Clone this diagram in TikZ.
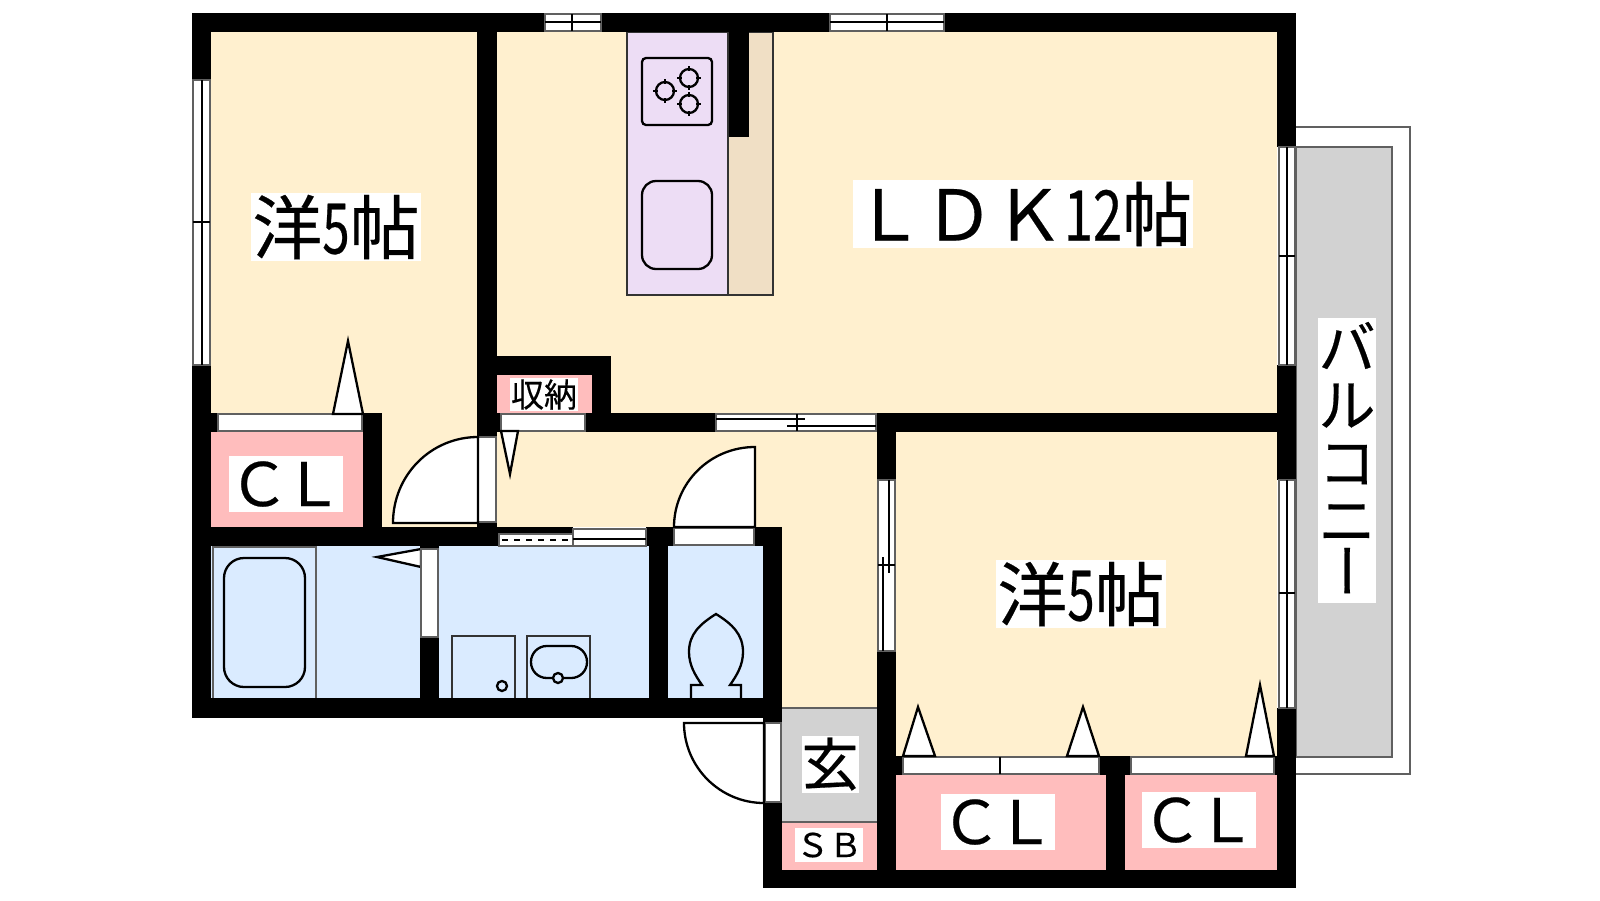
\documentclass[tikz,border=0pt]{standalone}
\usepackage{fontspec}
\usepackage{graphicx}
\setmainfont{Noto Sans CJK JP}
\newcommand{\dgt}[2]{{\addfontfeature{FakeStretch=#1}#2}}
\definecolor{floory}{HTML}{FFF0CF}
\definecolor{wetb}{HTML}{DAEBFF}
\definecolor{closetp}{HTML}{FFBDBD}
\definecolor{stoneg}{HTML}{D2D2D2}
\definecolor{kitchenp}{HTML}{EDDDF5}
\definecolor{kitchent}{HTML}{F0DFC5}
\definecolor{edgeg}{HTML}{606060}
\tikzset{
  x=0.5pt,y=-0.5pt,
  wall/.style={fill=black,draw=none},
  floorfill/.style={fill=floory,draw=none},
  pane/.style={fill=white,draw=edgeg,line width=1pt},
  rail/.style={draw=black,line width=0.9pt},
  fixture/.style={draw=black,line width=1.15pt},
  lbl/.style={fill=white,inner sep=0pt,text=black,align=center},
  lblbig/.style={lbl,font=\fontsize{35}{35}\selectfont\addfontfeature{FakeBold=0.35}},
  lblmid/.style={lbl,font=\fontsize{30}{30}\selectfont\addfontfeature{FakeBold=0.35}},
  lblgen/.style={lbl,font=\fontsize{28.5}{28.5}\selectfont\addfontfeature{FakeBold=0.35}},
  lblsmall/.style={lbl,font=\fontsize{16.5}{16.5}\selectfont\addfontfeature{FakeBold=0.25}},
}
\begin{document}
\begin{tikzpicture}
\path[use as bounding box,fill=white] (0,0) rectangle (1600,900);
% floors
\fill[floorfill] (211,32) rectangle (477,413);
\fill[floorfill] (382,413) rectangle (477,527);
\fill[floorfill] (497,32) rectangle (1277,413);
\fill[floorfill] (497,432) rectangle (877,527);
\fill[floorfill] (782,527) rectangle (877,708);
\fill[floorfill] (896,432) rectangle (1277,756);
% closets
\fill[closetp] (211,432) rectangle (363,527);
\fill[closetp] (497,375) rectangle (592,413);
\fill[closetp] (896,775) rectangle (1106,870);
\fill[closetp] (1125,775) rectangle (1277,870);
\fill[closetp] (782,822) rectangle (877,870);
% wet rooms
\fill[wetb] (211,546) rectangle (420,698);
\fill[wetb] (439,546) rectangle (649,698);
\fill[wetb] (668,546) rectangle (763,698);
% entry
\fill[stoneg] (782,708) rectangle (877,822);
\draw[draw=edgeg,line width=0.9pt] (782,708) -- (877,708) (782,822) -- (877,822);
% balcony
\draw[draw=edgeg,line width=0.9pt] (1296,127) -- (1410,127) -- (1410,774) -- (1296,774);
\draw[fill=stoneg,draw=edgeg,line width=1pt] (1296,147) rectangle (1392,757);
% kitchen
\draw[fill=kitchenp,draw=black!80,line width=1pt] (627,32) rectangle (728,295);
\draw[fill=kitchent,draw=black!80,line width=1pt] (728,32) rectangle (773,295);
\draw[fixture,rounded corners=2pt] (642,58) rectangle (712,125);
\draw[fixture,rounded corners=7pt] (642,181) rectangle (712,269);
\foreach \bx/\by in {665/91,689/78,689/104}{
  \draw[fixture] (\bx,\by) circle[radius=9];
  \draw[rail] (\bx-12,\by) -- (\bx-7,\by) (\bx+7,\by) -- (\bx+12,\by) (\bx,\by-12) -- (\bx,\by-7) (\bx,\by+7) -- (\bx,\by+12);
}
% walls
\fill[wall] (192,13) rectangle (545,32);
\fill[wall] (601,13) rectangle (830,32);
\fill[wall] (944,13) rectangle (1296,32);
\fill[wall] (729,32) rectangle (749,137);
\fill[wall] (192,13) rectangle (211,80);
\fill[wall] (192,365) rectangle (211,718);
\fill[wall] (192,698) rectangle (782,718);
\fill[wall] (477,32) rectangle (497,546);
\fill[wall] (192,527) rectangle (499,546);
\fill[wall] (363,413) rectangle (382,527);
\fill[wall] (211,413) rectangle (218,432);
\fill[wall] (420,546) rectangle (439,549);
\fill[wall] (420,637) rectangle (439,698);
\fill[wall] (499,527) rectangle (573,534);
\fill[wall] (646,527) rectangle (674,546);
\fill[wall] (649,546) rectangle (668,698);
\fill[wall] (754,527) rectangle (782,546);
\fill[wall] (763,546) rectangle (782,723);
\fill[wall] (763,802) rectangle (782,888);
\fill[wall] (763,870) rectangle (1296,888);
\fill[wall] (877,413) rectangle (896,480);
\fill[wall] (877,651) rectangle (896,888);
\fill[wall] (877,413) rectangle (1277,432);
\fill[wall] (1277,13) rectangle (1296,147);
\fill[wall] (1277,365) rectangle (1296,480);
\fill[wall] (1277,708) rectangle (1296,888);
\fill[wall] (1274,756) rectangle (1277,775);
\fill[wall] (896,756) rectangle (903,775);
\fill[wall] (1099,756) rectangle (1131,775);
\fill[wall] (1106,775) rectangle (1125,870);
\fill[wall] (497,356) rectangle (611,375);
\fill[wall] (592,356) rectangle (611,432);
\fill[wall] (497,413) rectangle (716,432);
% top windows
\draw[pane] (545,14) rectangle (601,31);
\draw[rail] (545,22) -- (601,22) (572,14) -- (572,31);
\draw[pane] (830,14) rectangle (944,31);
\draw[rail] (830,22) -- (944,22) (887,14) -- (887,31);
% left window
\draw[pane] (193,80) rectangle (210,365);
\draw[rail] (202,80) -- (202,365) (193,222) -- (210,222);
% right windows
\draw[pane] (1279,147) rectangle (1295,365);
\draw[rail] (1287,147) -- (1287,365) (1279,256) -- (1295,256);
\draw[pane] (1279,480) rectangle (1295,708);
\draw[rail] (1287,480) -- (1287,708) (1279,593) -- (1295,593);
% inner sliding window LDK / hall
\draw[pane] (716,414) rectangle (876,431);
\draw[rail] (716,419) -- (805,419) (787,426) -- (876,426) (797,414) -- (797,431);
% inner sliding window hall / bedroom
\draw[pane] (878,480) rectangle (895,651);
\draw[rail] (889,480) -- (889,573) (883,557) -- (883,651) (878,565) -- (895,565);
% washroom window
\draw[pane] (499,534) rectangle (573,546);
\draw[rail,dashed] (502,540) -- (571,540);
\draw[pane] (573,529) rectangle (646,546);
\draw[rail] (573,539) -- (646,539);
% closet doors
\draw[pane] (218,414) rectangle (362,431);
\draw[pane] (501,414) rectangle (585,431);
\draw[pane] (903,757) rectangle (1099,774);
\draw[rail] (1000,757) -- (1000,774);
\draw[pane] (1131,757) rectangle (1274,774);
% door leaves (triangles)
\draw[fixture,fill=white] (333,414) -- (348,341) -- (363,414) -- cycle;
\draw[fixture,fill=white] (501,431) -- (510,474) -- (518,431) -- cycle;
\draw[fixture,fill=white] (421,549) -- (377,557) -- (421,567) -- cycle;
\draw[fixture,fill=white] (903,756) -- (918,707) -- (935,756) -- cycle;
\draw[fixture,fill=white] (1067,756) -- (1083,707) -- (1099,756) -- cycle;
\draw[fixture,fill=white] (1246,756) -- (1260,685) -- (1274,756) -- cycle;
% swing doors
\draw[pane] (478,437) rectangle (496,522);
\draw[fixture,fill=white] (478,437) .. controls (431,437) and (393,475) .. (393,523) -- (478,523) -- cycle;
\draw[pane] (674,528) rectangle (754,545);
\draw[fixture,fill=white] (755,447) .. controls (710,447) and (674,483) .. (674,527) -- (755,527) -- cycle;
\draw[pane] (765,723) rectangle (781,802);
\draw[fixture,fill=white] (684,723) .. controls (684,767) and (720,803) .. (764,803) -- (764,723) -- cycle;
\draw[pane] (421,549) rectangle (438,637);
% bath
\draw[draw=edgeg,line width=1pt] (213,698) -- (213,547) -- (316,547) -- (316,698);
\draw[fixture,rounded corners=10pt] (224,558) rectangle (305,687);
% washer and basin
\draw[draw=black!80,line width=1pt] (452,698) -- (452,636) -- (515,636) -- (515,698);
\draw[fixture] (502,686) circle[radius=5];
\draw[draw=black!80,line width=1pt] (527,698) -- (527,636) -- (590,636) -- (590,698);
\draw[fixture,rounded corners=7.9pt] (531,646) rectangle (587,678);
\draw[fixture,fill=wetb] (558,678) circle[radius=5];
% toilet
\draw[fixture] (691,698) -- (691,685) -- (702,685)
  .. controls (695,675) and (689,665) .. (689,652)
  .. controls (689,634) and (700,624) .. (716,614)
  .. controls (732,624) and (743,634) .. (743,652)
  .. controls (743,665) and (737,675) .. (730,685)
  -- (741,685) -- (741,698);
% labels
\node[lblbig,minimum width=85pt,minimum height=34pt] (roomA) at (336,227) {洋\dgt{0.7}{5}帖};
\node[lblbig,minimum width=85pt,minimum height=34pt] (roomB) at (1081,594) {洋\dgt{0.7}{5}帖};
\node[lblbig,minimum width=170pt,minimum height=34pt] (ldk) at (1023,214) {ＬＤＫ\dgt{0.75}{12}帖};
\node[lblmid,minimum width=57pt,minimum height=28pt] (clA) at (286,484) {Ｃ\kern-3ptＬ};
\node[lblmid,minimum width=57pt,minimum height=28pt] (clB) at (998,822) {Ｃ\kern-3ptＬ};
\node[lblmid,minimum width=57pt,minimum height=28pt] (clC) at (1199,820) {Ｃ\kern-3ptＬ};
\node[lblgen,minimum width=28.5pt,minimum height=28.5pt] (genkan) at (830,764) {玄};
\node[lblsmall,minimum width=34pt,minimum height=17pt] (sb) at (829,845) {ＳＢ};
\node[lblsmall,minimum width=34pt,minimum height=16.5pt] (shuno) at (544,394.5) {収納};
\node[lbl,font=\fontsize{28.5}{28.8}\selectfont\addfontfeature{FakeBold=0.35},minimum width=29pt,minimum height=142.5pt] (balcony) at (1347,460.5)
  {バ\\ル\\コ\\ニ\\\hspace*{0.34em}\rotatebox{90}{ー}};
\end{tikzpicture}
\end{document}
